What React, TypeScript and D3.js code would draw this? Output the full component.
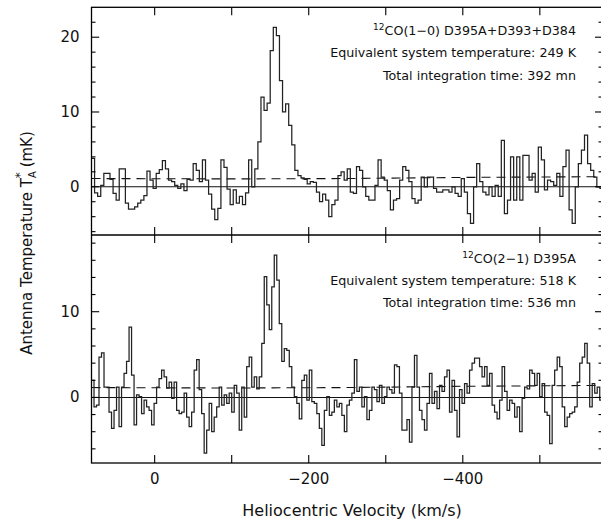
import React from "react";
import * as d3 from "d3";

// velocity grid (km/s): left edge of first channel, channel widths
const velLeft = 82;
const velRight = -582;
const topChanWidth = 4;
const botChanWidth = 3.25;

// 12CO(1-0) spectrum, mK
const topSpectrum = [
  3.8, -0.8, -1.3, 0.2, 1.8, 1.8, 1.0, -0.9, -1.8, 2.4,
  2.4, -2.2, -3.0, -3.0, -2.7, -2.2, -1.8, -1.2, 2.1, 0.9,
  -0.2, 1.8, 2.3, 3.5, 2.4, 0.9, 0.7, 0.2, -0.2, 0.4,
  -0.5, 1.0, 0.9, 3.1, 2.2, 0.7, 3.6, 0.9, -1.0, -3.0,
  -4.4, -2.9, 3.6, 2.6, -0.3, -2.4, -0.4, -2.2, -1.3, -2.4,
  -0.8, 3.6, 0.0, 2.4, 6.0, 12.0, 10.2, 11.2, 18.2, 21.3,
  20.2, 14.2, 10.0, 11.1, 8.2, 5.6, 2.2, 1.5, 1.2, 1.0,
  0.4, 0.7, 0.6, -0.7, -2.0, -1.0, -1.8, -4.0, -2.4, -1.8,
  1.5, 2.0, 0.9, 2.4, -0.7, -0.9, 2.7, 2.2, 0.0, -1.3,
  -1.8, -1.8, 0.2, 3.6, 1.3, 0.9, -0.5, -3.1, -1.8, -1.6,
  0.9, 2.7, 2.2, 0.7, -1.6, -2.2, -1.8, 1.3, 0.0, 1.3,
  1.3, -0.2, -0.7, -0.7, -0.4, -0.4, -0.7, 0.0, -0.9, -1.3,
  1.1, -0.7, -3.6, -4.9, 0.0, 3.1, 0.7, -0.7, -1.1, 0.0,
  -1.3, 0.2, -1.3, 6.2, -3.6, -1.8, 4.0, -1.8, 4.0, -1.8,
  4.2, 4.2, 0.9, 1.8, -0.7, 5.3, 3.6, -0.4, 0.9, 0.7,
  0.2, 1.8, -1.3, 2.7, 4.9, -3.1, -4.9, 0.0, 3.1, 4.9,
  6.9, 3.1, 2.2, 1.3, 0.0, -0.2,
];

// 12CO(2-1) spectrum, mK
const botSpectrum = [
  2.0, -1.1, -0.9, 4.7, 5.2, 1.2, 1.2, -1.7, -3.6, -1.5,
  1.2, -3.4, 1.2, 2.8, 4.2, 8.2, 2.6, -3.2, 0.3, 0.1,
  -1.9, -0.3, -1.1, -1.5, -3.2, -0.7, 1.2, 2.2, 3.2, 2.4,
  1.1, 1.8, -0.1, 1.8, -1.5, -1.9, -1.7, 0.5, -2.3, -3.4,
  -1.7, 3.2, 4.4, 0.9, -1.9, -6.5, -3.8, -0.7, -4.0, -2.3,
  -1.1, 1.2, -0.9, 0.3, -0.7, 0.5, -1.7, 1.4, 0.5, -3.8,
  1.2, -2.3, 3.6, 4.7, 1.2, 2.4, 1.0, 2.4, 6.3, 14.1,
  10.8, 7.9, 12.9, 16.6, 13.7, 8.6, 4.2, 5.7, 5.5, 3.6,
  1.2, 0.1, -0.7, -2.5, 2.0,
  2.6, -0.3, 3.2, -0.5, -0.7, -1.9, -3.6, -5.6, -1.5, 0.1,
  -2.1, -1.7, -0.3, -1.1, -0.7, -2.1, -4.0, -0.9, -0.3, 0.5,
  4.4, 0.7, 1.2, -1.1, 0.1, -2.6, -1.5, 1.2, 0.9, -0.5,
  1.4, -0.7, 0.1, 1.2, 0.9, 0.5, 3.8, 3.6, 0.5, -3.8,
  -3.8, -2.6, -5.2, 1.2, 4.9, 1.2, -1.5, -2.6, -3.8, -0.7,
  2.8, -0.7, 0.7, -1.3, 1.4, 0.7, 2.4, 3.2, -1.7, 2.0,
  -1.5, -4.6, 0.9, -0.7, 1.6, 0.5, 3.2, 4.0, 4.6, 4.6,
  3.6, 2.4, 3.6, 1.4, 2.8, -0.9, -1.7, -2.5, -0.3, 3.6,
  0.7, -1.5, -0.3, -0.7, -2.3, -1.1, -4.0, -0.1, 1.2, 1.0,
  3.2, 2.8, 1.4, 2.8, 0.1, 1.6, -1.7, -2.1, -5.4, 1.4,
  3.2, 4.7, 3.6, -1.1, -3.4, -2.3, -1.9, -1.7, -1.1, 1.8,
  4.0, 4.7, 6.3, 4.0, -1.1, 1.6, 0.5, 1.2, -0.3,
];

// dashed baseline (noise level) curves
const baselineVel = [82, -100, -250, -400, -582];
const topBaseline = [1.1, 1.05, 1.1, 1.25, 1.35];
const botBaseline = [1.15, 1.1, 1.15, 1.3, 1.4];

const xMajor = [0, -100, -200, -300, -400, -500];
const xLabelled = [0, -200, -400];
const topYMajor = [0, 10, 20];
const topYMinor = [-6, -4, -2, 2, 4, 6, 8, 12, 14, 16, 18, 22];
const botYMajor = [0, 10];
const botYMinor = [-6, -4, -2, 2, 4, 6, 8, 12, 14, 16, 18];

const topTitle = "CO(1\u22120) D395A+D393+D384";
const topNotes = ["Equivalent system temperature: 249 K", "Total integration time: 392 mn"];
const botTitle = "CO(2\u22121) D395A";
const botNotes = ["Equivalent system temperature: 518 K", "Total integration time: 536 mn"];

const FONT = "DejaVu Sans, Verdana, sans-serif";
const left = 91.5;
const right = 603;
const topY0 = 7.3;
const midY = 235;
const botY1 = 463;

const x = d3.scaleLinear().domain([velLeft, velRight]).range([left, right]);

function Panel({ spectrum, chanWidth, baseline, yDomain, y0, y1, majors, minors, title, notes, id }) {
  const y = d3.scaleLinear().domain(yDomain).range([y1, y0]);
  const pts = spectrum.map((t, i) => [x(velLeft - i * chanWidth), y(t)]);
  pts.push([x(velLeft - spectrum.length * chanWidth), y(spectrum[spectrum.length - 1])]);
  const step = d3.line().curve(d3.curveStepAfter)(pts);
  const dash = d3
    .line()
    .x((d) => x(d[0]))
    .y((d) => y(d[1]))(baselineVel.map((v, i) => [v, baseline[i]]));

  return (
    <g>
      <clipPath id={id}>
        <rect x={left} y={y0} width={right - left} height={y1 - y0} />
      </clipPath>
      <line x1={left} x2={right} y1={y(0)} y2={y(0)} stroke="#111" strokeWidth={1.1} />
      <path d={dash} fill="none" stroke="#111" strokeWidth={1.1} strokeDasharray="9,6" clipPath={`url(#${id})`} />
      <path d={step} fill="none" stroke="#222" strokeWidth={1.25} clipPath={`url(#${id})`} />
      {xMajor.map((v) => (
        <g key={v}>
          <line x1={x(v)} x2={x(v)} y1={y0} y2={y0 + 8} stroke="#000" strokeWidth={1.1} />
          <line x1={x(v)} x2={x(v)} y1={y1} y2={y1 - 8} stroke="#000" strokeWidth={1.1} />
        </g>
      ))}
      {majors.map((t) => (
        <g key={t}>
          <line x1={left} x2={left + 7.7} y1={y(t)} y2={y(t)} stroke="#000" strokeWidth={1.1} />
          <line x1={right} x2={right - 8} y1={y(t)} y2={y(t)} stroke="#000" strokeWidth={1.1} />
          <text x={79.5} y={y(t) + 5} textAnchor="end" fontFamily={FONT} fontSize={15} fill="#111">
            {t}
          </text>
        </g>
      ))}
      {minors.map((t) => (
        <g key={t}>
          <line x1={left} x2={left + 4} y1={y(t)} y2={y(t)} stroke="#000" strokeWidth={1.1} />
          <line x1={right} x2={right - 4.5} y1={y(t)} y2={y(t)} stroke="#000" strokeWidth={1.1} />
        </g>
      ))}
      <text x={576} y={y0 + 27.5} textAnchor="end" fontFamily={FONT} fontSize={12.7} fill="#111">
        <tspan fontSize={9} dy={-5}>12</tspan>
        <tspan dy={5}>{title}</tspan>
      </text>
      {notes.map((n, i) => (
        <text key={n} x={576} y={y0 + 49.5 + i * 22.8} textAnchor="end" fontFamily={FONT} fontSize={12.7} fill="#111">
          {n}
        </text>
      ))}
    </g>
  );
}

export default function App() {
  return (
    <svg
      width={601}
      height={521}
      viewBox="0 0 601 521"
      style={{ position: "absolute", left: 0, top: 0, background: "#fff" }}
    >
      <Panel
        id="clipTop"
        spectrum={topSpectrum}
        chanWidth={topChanWidth}
        baseline={topBaseline}
        yDomain={[-6.45, 24]}
        y0={topY0}
        y1={midY}
        majors={topYMajor}
        minors={topYMinor}
        title={topTitle}
        notes={topNotes}
      />
      <Panel
        id="clipBot"
        spectrum={botSpectrum}
        chanWidth={botChanWidth}
        baseline={botBaseline}
        yDomain={[-7.65, 18.95]}
        y0={midY}
        y1={botY1}
        majors={botYMajor}
        minors={botYMinor}
        title={botTitle}
        notes={botNotes}
      />
      <rect x={left} y={topY0} width={right - left} height={botY1 - topY0} fill="none" stroke="#000" strokeWidth={1.3} />
      <line x1={left} x2={right} y1={midY} y2={midY} stroke="#000" strokeWidth={1.3} />
      {xLabelled.map((v) => (
        <text key={v} x={x(v)} y={483.5} textAnchor="middle" fontFamily={FONT} fontSize={15} fill="#111">
          {v === 0 ? "0" : `\u2212${Math.abs(v)}`}
        </text>
      ))}
      <text x={352} y={516} textAnchor="middle" fontFamily={FONT} fontSize={16} fill="#111">
        Heliocentric Velocity (km/s)
      </text>
      <text transform="translate(32,243) rotate(-90)" textAnchor="middle" fontFamily={FONT} fontSize={15} fill="#111">
        Antenna Temperature T
        <tspan fontSize={10} dy={4}>A</tspan>
        <tspan fontSize={12} dx={-7} dy={-12}>*</tspan>
        <tspan dy={8}> (mK)</tspan>
      </text>
    </svg>
  );
}
